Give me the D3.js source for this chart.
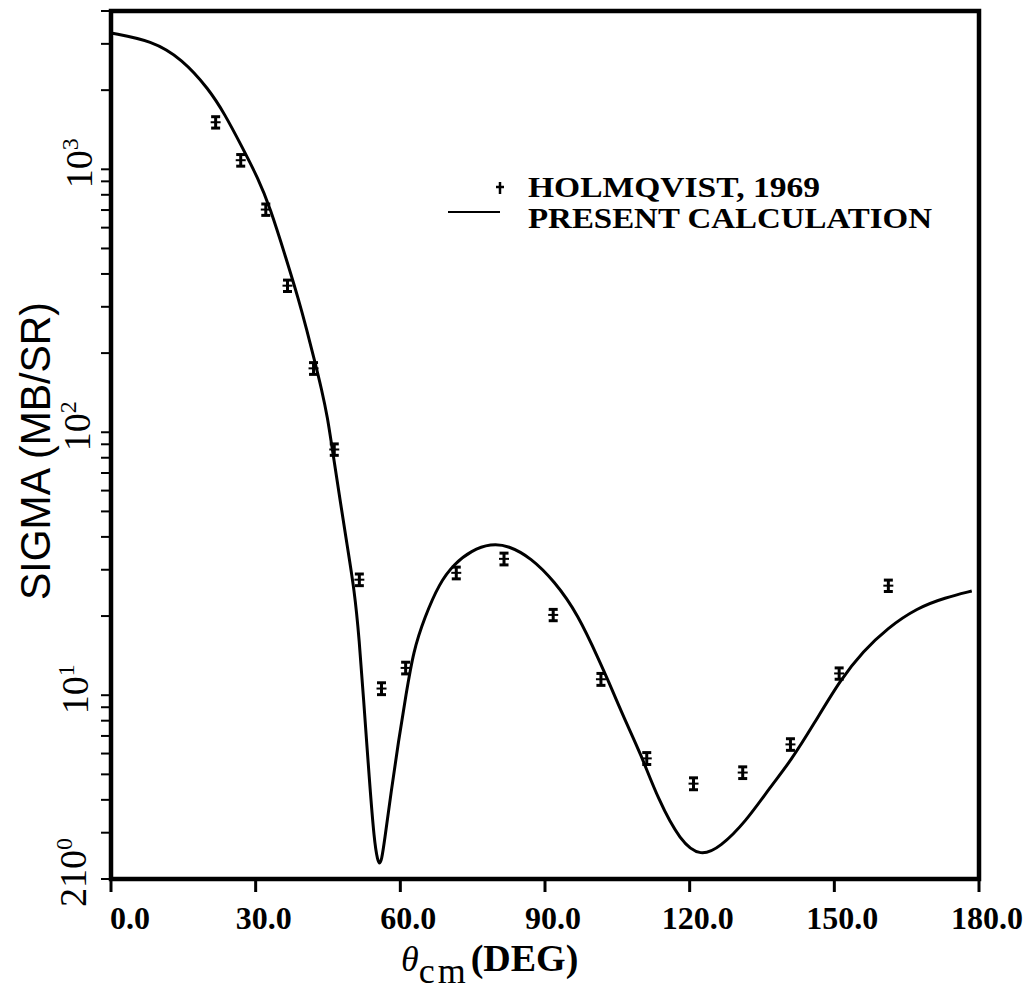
<!DOCTYPE html>
<html>
<head>
<meta charset="utf-8">
<title>Sigma vs theta_cm</title>
<script src="https://d3js.org/d3.v7.min.js"></script>
<style>
body { margin:0; background:#fff; }
.tick-lab { font-family: "Liberation Serif", serif; font-weight: bold; font-size: 32px; }
.ylab { font-family: "Liberation Serif", serif; font-size: 38px; }
.leg { font-family: "Liberation Serif", serif; font-weight: bold; font-size: 29px; }
</style>
</head>
<body>
<script>
var expTheta = [21.7, 26.9, 32.1, 36.6, 42.0, 46.3, 51.5, 56.1, 61.1, 71.6, 81.5, 91.7, 101.6, 111.1, 120.8, 131.0, 140.9, 151.0, 161.2];
var expSigma = [1510, 1083, 703, 361, 175, 86, 27.5, 10.6, 12.7, 29.2, 33.0, 20.2, 11.5, 5.75, 4.61, 5.08, 6.50, 12.1, 26.1];
var expErr   = [75, 55, 35, 18, 9, 4.3, 1.4, 0.55, 0.65, 1.5, 1.7, 1.0, 0.6, 0.3, 0.24, 0.26, 0.33, 0.6, 1.3];

// present calculation
var calcTheta = [0, 8.5, 14.7, 20.3, 23.6, 27.1, 30.6, 32.9, 36.4, 38.9, 40.6, 42.2, 43.7, 44.9, 45.9, 48.8, 50.5, 51.5, 52.3, 53.6, 54.6, 55.3, 55.7, 56.1, 56.7, 58.1, 59.6, 61.2, 62.7, 65.0, 68.1, 71.2, 74.7, 78.8, 82.4, 87.1, 91.9, 96.8, 101.6, 102.9, 106.4, 109.9, 113.4, 118.1, 122.3, 126.4, 131.6, 136.8, 140.9, 145.7, 151.3, 156.0, 161.0, 167.2, 173.0, 178.5];
var calcSigma = [3300, 3085, 2630, 2018, 1620, 1224, 916, 722, 453, 320, 245, 188, 145, 114, 86, 38.7, 25, 16.1, 10.1, 4.70, 2.77, 2.35, 2.28, 2.35, 2.77, 4.30, 6.67, 10.1, 14.7, 19.7, 26.7, 31.6, 35.5, 37.7, 37.1, 33.3, 27.2, 20.4, 13.1, 11.6, 8.17, 5.96, 4.04, 2.77, 2.43, 2.65, 3.30, 4.50, 5.60, 7.74, 11.5, 14.7, 18.0, 21.5, 23.5, 24.9];

var xTicks = [0, 30, 60, 90, 120, 150, 180];
var legendLabels = ["HOLMQVIST, 1969", "PRESENT CALCULATION"];

var W = 1034, H = 991;
var L = 111, R = 979, T = 11, B = 879;

var svg = d3.select("body").append("svg")
  .attr("width", W).attr("height", H);

var x = d3.scaleLinear().domain([0, 180]).range([L, R]);
var y = d3.scaleLog().domain([2, 4000]).range([B, T]);

// minor/major ticks on the log axis (outside, left)
var yTicks = [];
[1, 10, 100, 1000].forEach(function(dec) {
  for (var k = 1; k <= 9; k++) {
    var v = k * dec;
    if (v >= 2 && v <= 4000) yTicks.push(v);
  }
});
svg.append("g").selectAll("line")
  .data(yTicks).enter().append("line")
  .attr("x1", L - 10).attr("x2", L - 2)
  .attr("y1", function(d) { return y(d); })
  .attr("y2", function(d) { return y(d); })
  .attr("stroke", "#000").attr("stroke-width", 2);

// bottom ticks
svg.append("g").selectAll("line")
  .data(xTicks).enter().append("line")
  .attr("x1", function(d) { return x(d); })
  .attr("x2", function(d) { return x(d); })
  .attr("y1", B).attr("y2", B + 13)
  .attr("stroke", "#000").attr("stroke-width", 3);

svg.append("g").selectAll("text")
  .data(xTicks).enter().append("text")
  .attr("class", "tick-lab")
  .attr("text-anchor", "middle")
  .attr("x", function(d) { return x(d) + (d === 0 ? 19 : 8); })
  .attr("y", 929)
  .text(function(d) { return d3.format(".1f")(d); });

// frame
svg.append("rect")
  .attr("x", L).attr("y", T)
  .attr("width", R - L).attr("height", B - T)
  .attr("fill", "none").attr("stroke", "#000").attr("stroke-width", 4.5);

// y labels (rotated, 10^n)
var yLabs = [
  {v: 1000, exp: "3", bx: 92},
  {v: 100, exp: "2", bx: 90},
  {v: 10, exp: "1", bx: 88}
];
yLabs.forEach(function(d) {
  var t = svg.append("text").attr("class", "ylab")
    .attr("transform", "translate(" + d.bx + "," + (y(d.v) + 19) + ") rotate(-90)");
  t.append("tspan").text("10");
  t.append("tspan").attr("dy", -14).attr("font-size", 24).text(d.exp);
});
var t0 = svg.append("text").attr("class", "ylab")
  .attr("transform", "translate(86,907) rotate(-90)");
t0.append("tspan").text("210");
t0.append("tspan").attr("dy", -14).attr("font-size", 24).text("0");

// y title
svg.append("text")
  .attr("transform", "translate(50,451) rotate(-90)")
  .attr("text-anchor", "middle")
  .attr("font-family", "'Liberation Sans', sans-serif")
  .attr("font-size", 42)
  .attr("textLength", 298).attr("lengthAdjust", "spacingAndGlyphs")
  .text("SIGMA (MB/SR)");

// x title
var xt = svg.append("text").attr("x", 401).attr("y", 971)
  .attr("font-family", "'Liberation Serif', serif");
xt.append("tspan").attr("font-style", "italic").attr("font-size", 36).text("θ");
xt.append("tspan").attr("font-size", 36).attr("dy", 12).attr("letter-spacing", 3).text("cm");
xt.append("tspan").attr("font-size", 38).attr("font-weight", "bold").attr("dx", 2).attr("dy", -12).text("(DEG)");

// calculation curve
var line = d3.line()
  .x(function(d) { return x(d[0]); })
  .y(function(d) { return y(d[1]); })
  .curve(d3.curveBasis);
svg.append("path")
  .datum(d3.zip(calcTheta, calcSigma))
  .attr("d", line)
  .attr("fill", "none").attr("stroke", "#000").attr("stroke-width", 3);

// data points with error bars
function errMark(g, cx, y0, y1, yc) {
  g.append("line").attr("x1", cx).attr("x2", cx).attr("y1", y0).attr("y2", y1)
    .attr("stroke", "#000").attr("stroke-width", 3);
  [y0, y1].forEach(function(yy) {
    g.append("line").attr("x1", cx - 4.5).attr("x2", cx + 4.5).attr("y1", yy).attr("y2", yy)
      .attr("stroke", "#000").attr("stroke-width", 3);
  });
  g.append("line").attr("x1", cx - 5).attr("x2", cx + 5).attr("y1", yc).attr("y2", yc)
    .attr("stroke", "#000").attr("stroke-width", 2);
}
var pts = svg.append("g");
expTheta.forEach(function(th, i) {
  var s = expSigma[i], e = expErr[i];
  errMark(pts, x(th), y(s + e), y(s - e), y(s));
});

// legend
var lg = svg.append("g");
lg.append("line").attr("x1", 500).attr("x2", 500).attr("y1", 182).attr("y2", 194)
  .attr("stroke", "#000").attr("stroke-width", 2.5);
lg.append("line").attr("x1", 496).attr("x2", 504).attr("y1", 187).attr("y2", 187)
  .attr("stroke", "#000").attr("stroke-width", 2.5);
lg.append("text").attr("class", "leg").attr("x", 528).attr("y", 197)
  .attr("textLength", 292).attr("lengthAdjust", "spacingAndGlyphs")
  .text(legendLabels[0]);
lg.append("line").attr("x1", 448).attr("x2", 500).attr("y1", 212).attr("y2", 212)
  .attr("stroke", "#000").attr("stroke-width", 2);
lg.append("text").attr("class", "leg").attr("x", 528).attr("y", 228)
  .attr("textLength", 404).attr("lengthAdjust", "spacingAndGlyphs")
  .text(legendLabels[1]);
</script>
</body>
</html>
